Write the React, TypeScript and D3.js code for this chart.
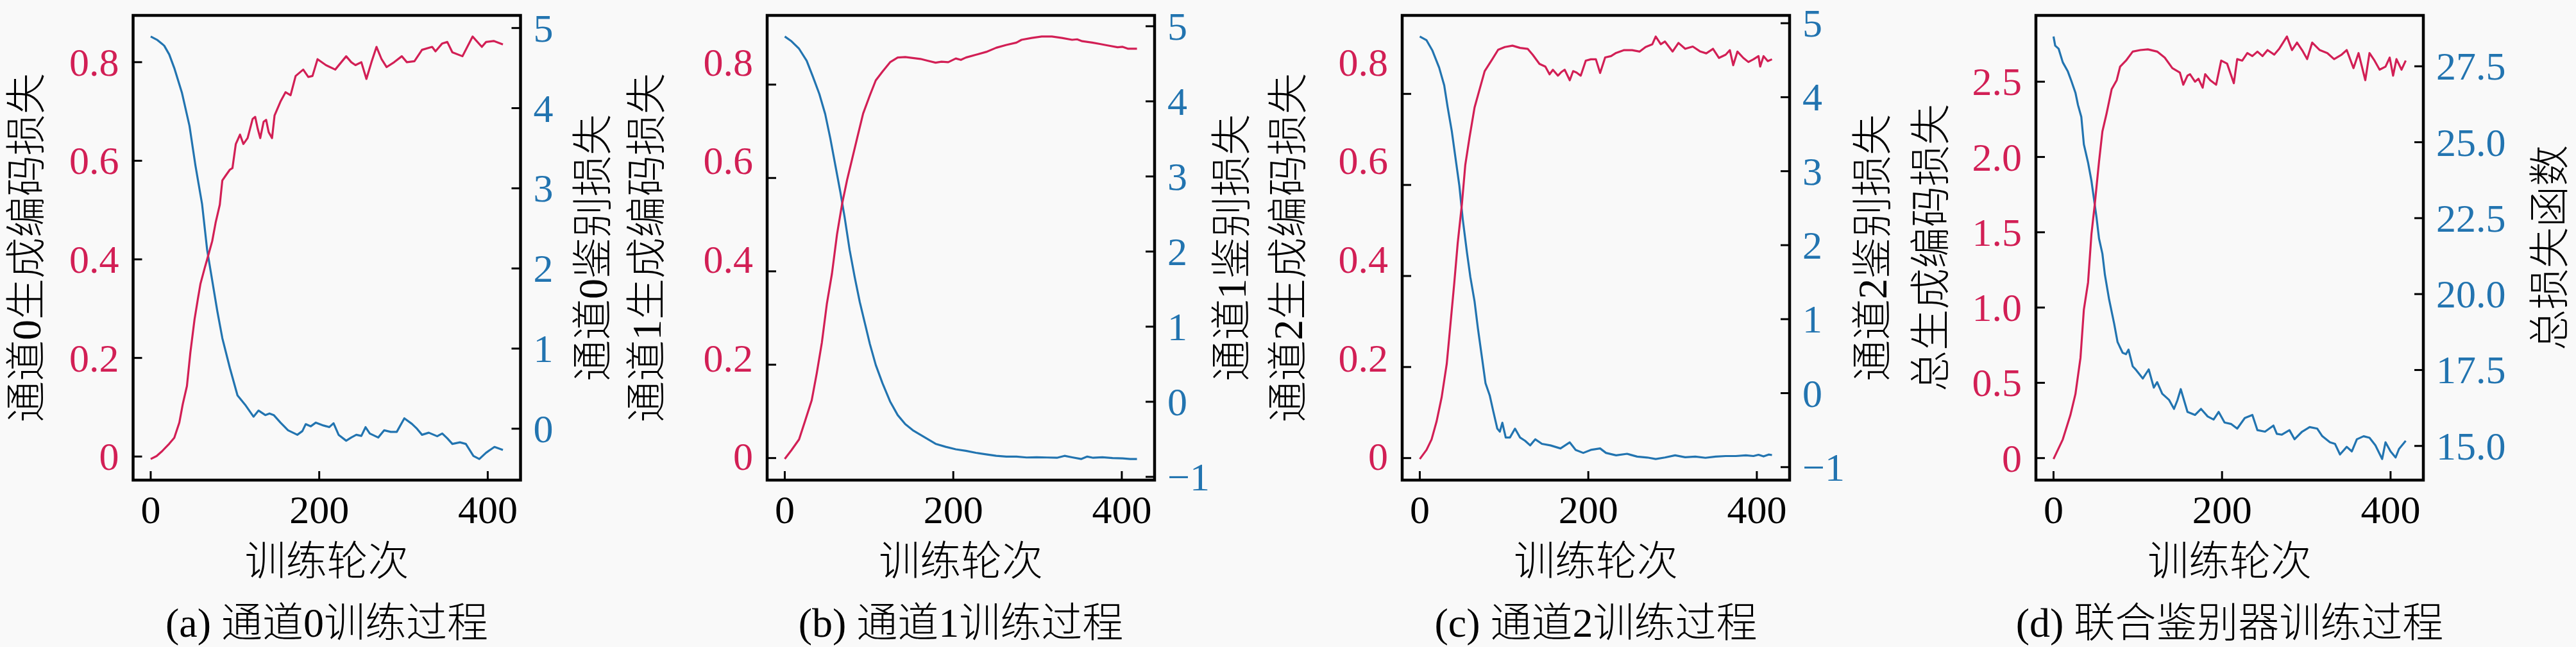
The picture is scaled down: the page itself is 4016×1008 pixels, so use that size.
// @ts-nocheck
import React from 'react'
import * as d3 from 'd3'

// epoch / value pairs
const genA = [[0,-0.005],[7,0.001],[13,0.01],[22,0.026],[28,0.038],[34,0.069],[38,0.106],[43,0.143],[47,0.21],[52,0.278],[56,0.32],[59,0.35],[64,0.382],[67,0.4],[73,0.437],[77,0.474],[82,0.511],[85,0.56],[89,0.57],[94,0.582],[97,0.585],[101,0.634],[106,0.653],[110,0.634],[115,0.646],[121,0.685],[124,0.689],[127,0.665],[130,0.646],[134,0.679],[137,0.683],[140,0.658],[144,0.646],[147,0.692],[154,0.72],[160,0.739],[166,0.733],[172,0.772],[181,0.785],[187,0.77],[192,0.772],[198,0.806],[208,0.794],[219,0.785],[232,0.812],[238,0.8],[243,0.794],[250,0.8],[256,0.766],[262,0.8],[268,0.831],[274,0.806],[280,0.79],[289,0.8],[298,0.812],[304,0.8],[313,0.802],[322,0.825],[334,0.831],[338,0.822],[346,0.838],[352,0.841],[358,0.82],[370,0.812],[382,0.852],[393,0.831],[398,0.841],[407,0.843],[418,0.836]]
const discA = [[0,4.894],[8,4.85],[16,4.78],[22,4.67],[28,4.5],[37,4.195],[46,3.78],[53,3.29],[61,2.8],[67,2.23],[73,1.85],[79,1.47],[85,1.13],[94,0.756],[103,0.416],[112,0.3],[122,0.15],[128,0.227],[136,0.17],[141,0.19],[146,0.17],[154,0.076],[163,-0.02],[174,-0.076],[180,-0.03],[184,0.057],[190,0.03],[196,0.076],[205,0.04],[212,0.02],[217,0.068],[223,-0.076],[232,-0.15],[238,-0.11],[244,-0.076],[250,-0.09],[255,0.019],[260,-0.06],[270,-0.11],[277,-0.02],[285,-0.04],[292,-0.04],[301,0.13],[310,0.06],[316,0.0],[322,-0.076],[330,-0.05],[340,-0.094],[346,-0.06],[352,-0.12],[358,-0.19],[367,-0.17],[374,-0.19],[383,-0.34],[390,-0.378],[398,-0.3],[408,-0.227],[418,-0.265]]

const genB = [[0,-0.002],[8,0.017],[17,0.04],[24,0.079],[32,0.124],[38,0.182],[44,0.247],[50,0.331],[56,0.395],[62,0.479],[68,0.544],[74,0.596],[80,0.641],[86,0.686],[93,0.738],[101,0.777],[108,0.809],[116,0.828],[125,0.848],[134,0.858],[143,0.859],[152,0.857],[161,0.855],[170,0.851],[179,0.847],[186,0.849],[194,0.848],[203,0.856],[209,0.853],[215,0.858],[227,0.864],[239,0.87],[251,0.879],[263,0.885],[275,0.89],[281,0.896],[293,0.9],[305,0.903],[317,0.903],[329,0.9],[341,0.896],[347,0.897],[353,0.893],[365,0.89],[374,0.887],[383,0.884],[395,0.88],[401,0.881],[407,0.877],[418,0.877]]
const discB = [[0,4.863],[8,4.8],[17,4.7],[26,4.54],[33,4.34],[41,4.1],[48,3.83],[54,3.51],[60,3.15],[66,2.79],[71,2.46],[77,2.02],[83,1.66],[89,1.33],[95,1.05],[101,0.77],[108,0.49],[116,0.246],[125,0.004],[134,-0.177],[143,-0.298],[152,-0.379],[161,-0.44],[170,-0.5],[179,-0.56],[191,-0.6],[203,-0.633],[215,-0.653],[227,-0.68],[239,-0.7],[251,-0.72],[263,-0.73],[275,-0.73],[287,-0.742],[299,-0.738],[311,-0.742],[323,-0.746],[332,-0.72],[341,-0.74],[352,-0.762],[359,-0.73],[366,-0.746],[377,-0.738],[389,-0.75],[401,-0.754],[410,-0.762],[418,-0.762]]

const genC = [[0,-0.002],[8,0.018],[14,0.041],[20,0.081],[26,0.134],[32,0.207],[36,0.286],[41,0.386],[45,0.472],[50,0.558],[54,0.644],[59,0.704],[65,0.77],[71,0.81],[77,0.85],[86,0.876],[93,0.897],[101,0.903],[110,0.906],[119,0.901],[128,0.899],[134,0.886],[142,0.866],[149,0.86],[154,0.843],[158,0.853],[164,0.84],[168,0.848],[172,0.853],[178,0.83],[182,0.85],[186,0.847],[191,0.84],[197,0.873],[203,0.876],[209,0.876],[214,0.846],[220,0.88],[227,0.883],[233,0.89],[242,0.896],[252,0.896],[261,0.893],[268,0.903],[276,0.909],[280,0.926],[286,0.909],[291,0.915],[300,0.893],[307,0.912],[315,0.899],[324,0.904],[333,0.893],[340,0.889],[348,0.899],[355,0.879],[363,0.886],[368,0.896],[372,0.863],[377,0.893],[384,0.879],[390,0.87],[396,0.876],[402,0.883],[404,0.86],[408,0.883],[413,0.872],[418,0.876]]
const discC = [[0,4.82],[8,4.77],[15,4.63],[23,4.4],[29,4.16],[33,3.87],[38,3.54],[42,3.21],[47,2.8],[51,2.35],[56,1.9],[60,1.57],[65,1.24],[69,0.874],[74,0.464],[78,0.135],[83,-0.03],[87,-0.234],[92,-0.48],[95,-0.52],[98,-0.4],[102,-0.6],[107,-0.6],[113,-0.48],[119,-0.6],[125,-0.644],[131,-0.706],[137,-0.624],[145,-0.685],[155,-0.706],[167,-0.747],[178,-0.665],[185,-0.767],[194,-0.808],[203,-0.767],[214,-0.747],[221,-0.808],[233,-0.84],[246,-0.82],[258,-0.858],[270,-0.87],[280,-0.89],[291,-0.87],[303,-0.84],[315,-0.866],[327,-0.858],[339,-0.874],[351,-0.858],[363,-0.85],[375,-0.85],[387,-0.84],[396,-0.85],[402,-0.833],[408,-0.855],[414,-0.83],[418,-0.837]]

const genD = [[0,-0.006],[11,0.124],[20,0.285],[26,0.425],[32,0.666],[36,0.986],[41,1.167],[45,1.487],[49,1.688],[54,1.969],[58,2.169],[63,2.29],[69,2.45],[75,2.51],[79,2.6],[86,2.64],[94,2.7],[103,2.71],[112,2.715],[123,2.7],[132,2.66],[141,2.59],[150,2.56],[154,2.48],[159,2.54],[162,2.55],[168,2.5],[172,2.52],[177,2.46],[180,2.55],[186,2.51],[193,2.48],[199,2.64],[206,2.62],[214,2.49],[218,2.65],[224,2.64],[230,2.69],[236,2.67],[242,2.7],[248,2.67],[254,2.71],[262,2.68],[268,2.72],[277,2.8],[283,2.71],[289,2.76],[295,2.71],[301,2.65],[307,2.76],[316,2.71],[325,2.69],[333,2.65],[342,2.68],[348,2.71],[356,2.59],[362,2.69],[370,2.51],[375,2.69],[381,2.64],[387,2.58],[394,2.6],[399,2.66],[403,2.54],[407,2.65],[413,2.58],[418,2.64]]
const totalD = [[0,28.48],[2,28.18],[6,28.08],[11,27.63],[17,27.33],[21,27.03],[26,26.63],[29,26.23],[33,25.83],[36,24.93],[41,24.33],[45,23.73],[48,23.13],[51,22.53],[54,21.83],[58,21.33],[61,20.63],[66,19.82],[72,19.02],[76,18.42],[82,18.07],[86,18.02],[89,18.17],[94,17.62],[98,17.5],[106,17.22],[113,17.52],[119,16.92],[123,17.1],[129,16.72],[137,16.52],[143,16.22],[147,16.5],[151,16.87],[159,16.12],[168,16.02],[175,16.22],[183,15.97],[190,15.87],[196,16.12],[203,15.77],[211,15.72],[218,15.57],[227,15.92],[236,16.02],[242,15.52],[251,15.47],[261,15.67],[265,15.4],[271,15.37],[280,15.52],[286,15.22],[295,15.47],[304,15.62],[313,15.57],[319,15.32],[328,15.12],[334,15.07],[340,14.72],[348,14.97],[354,14.82],[360,15.22],[368,15.32],[375,15.27],[382,15.02],[390,14.57],[394,15.12],[400,14.82],[406,14.62],[410,14.9],[418,15.17]]

const xTicks = [0, 200, 400]
const leftTicks = [0, 0.2, 0.4, 0.6, 0.8]
const leftTicksD = [0, 0.5, 1.0, 1.5, 2.0, 2.5]
const rightTicksA = [0, 1, 2, 3, 4, 5]
const rightTicksBC = [-1, 0, 1, 2, 3, 4, 5]
const rightTicksD = [15, 17.5, 20, 22.5, 25, 27.5]

const leftLabels = ['通道0生成编码损失', '通道1生成编码损失', '通道2生成编码损失', '总生成编码损失']
const rightLabels = ['通道0鉴别损失', '通道1鉴别损失', '通道2鉴别损失', '总损失函数']
const captions = ['(a) 通道0训练过程', '(b) 通道1训练过程', '(c) 通道2训练过程', '(d) 联合鉴别器训练过程']
const xLabel = '训练轮次'

const W = 4016
const H = 1008
const TOP = 24
const BOTTOM = 748
const PW = 604
const RED = '#d21f55'
const BLUE = '#2274b0'
const FONT = '"Liberation Serif", "Noto Sans CJK SC", serif'

const padded = (vals) => {
  const [a, b] = d3.extent(vals)
  const m = (b - a) * 0.05
  return [a - m, b + m]
}

const fmtLeft = (v) => (v === 0 ? '0' : d3.format('.1f')(v))
const fmtInt = (v) => (v < 0 ? '\u2212' + Math.abs(v) : String(v))
const fmtOne = d3.format('.1f')

// panel (a) left scale: the (b) and (c) left tick labels sit at these heights in the figure
const yLabelA = d3.scaleLinear().domain(padded(genA.map((d) => d[1]))).range([BOTTOM, TOP])

const panels = [
  { left: 207.5, gen: genA, disc: discA, lt: leftTicks, rt: rightTicksA, lf: fmtLeft, rf: fmtInt, lx: 41.5, rx: 924 },
  { left: 1196, gen: genB, disc: discB, lt: leftTicks, rt: rightTicksBC, lf: fmtLeft, rf: fmtInt, lx: 1008.5, rx: 1920, labelScale: yLabelA },
  { left: 2186, gen: genC, disc: discC, lt: leftTicks, rt: rightTicksBC, lf: fmtLeft, rf: fmtInt, lx: 2008, rx: 2919, labelScale: yLabelA },
  { left: 3174, gen: genD, disc: totalD, lt: leftTicksD, rt: rightTicksD, lf: fmtLeft, rf: fmtOne, lx: 3010, rx: 3975 },
]

const Panel = ({ p, i }) => {
  const right = p.left + PW
  const x = d3.scaleLinear().domain(padded(p.gen.map((d) => d[0]))).range([p.left, right])
  const yL = d3.scaleLinear().domain(padded(p.gen.map((d) => d[1]))).range([BOTTOM, TOP])
  const yR = d3.scaleLinear().domain(padded(p.disc.map((d) => d[1]))).range([BOTTOM, TOP])
  const labelY = p.labelScale || yL
  const lineL = d3.line().x((d) => x(d[0])).y((d) => yL(d[1]))
  const lineR = d3.line().x((d) => x(d[0])).y((d) => yR(d[1]))
  const cx = (p.left + right) / 2
  const cy = (TOP + BOTTOM) / 2
  const tl = 14

  return (
    <g>
      <path d={lineR(p.disc)} fill="none" stroke={BLUE} strokeWidth={3.2} strokeLinejoin="round" />
      <path d={lineL(p.gen)} fill="none" stroke={RED} strokeWidth={3.2} strokeLinejoin="round" />
      <rect x={p.left} y={TOP} width={PW} height={BOTTOM - TOP} fill="none" stroke="#000" strokeWidth={4.5} />

      {xTicks.map((t) => (
        <g key={'x' + t}>
          <line x1={x(t)} x2={x(t)} y1={BOTTOM} y2={BOTTOM - tl} stroke="#000" strokeWidth={3} />
          <text x={x(t)} y={794} textAnchor="middle" dominantBaseline="central" fontSize={62} fill="#000">
            {t}
          </text>
        </g>
      ))}

      {p.lt.map((t) => (
        <g key={'l' + t}>
          <line x1={p.left} x2={p.left + tl} y1={yL(t)} y2={yL(t)} stroke="#000" strokeWidth={3} />
          <text x={p.left - 22} y={labelY(t)} textAnchor="end" dominantBaseline="central" fontSize={62} fill={RED}>
            {p.lf(t)}
          </text>
        </g>
      ))}

      {p.rt.map((t) => (
        <g key={'r' + t}>
          <line x1={right} x2={right - tl} y1={yR(t)} y2={yR(t)} stroke="#000" strokeWidth={3} />
          <text x={right + 20} y={yR(t)} textAnchor="start" dominantBaseline="central" fontSize={62} fill={BLUE}>
            {p.rf(t)}
          </text>
        </g>
      ))}

      <g fontWeight={300}>
        <text x={cx} y={874} textAnchor="middle" dominantBaseline="central" fontSize={64}>
          {xLabel}
        </text>
        <text x={cx} y={970} textAnchor="middle" dominantBaseline="central" fontSize={64}>
          {captions[i]}
        </text>
        <text
          transform={`translate(${p.lx}, ${cy}) rotate(-90)`}
          textAnchor="middle"
          dominantBaseline="central"
          fontSize={64}
        >
          {leftLabels[i]}
        </text>
        <text
          transform={`translate(${p.rx}, ${cy}) rotate(-90)`}
          textAnchor="middle"
          dominantBaseline="central"
          fontSize={64}
        >
          {rightLabels[i]}
        </text>
      </g>
    </g>
  )
}

const App = () => {
  return (
    <div style={{ position: 'fixed', left: 0, top: 0, width: W, height: H, background: '#f9f9f9' }}>
      <svg width={W} height={H} fontFamily={FONT} style={{ display: 'block' }}>
        <rect width={W} height={H} fill="#f9f9f9" />
        {panels.map((p, i) => (
          <Panel key={i} p={p} i={i} />
        ))}
      </svg>
    </div>
  )
}

export default App
